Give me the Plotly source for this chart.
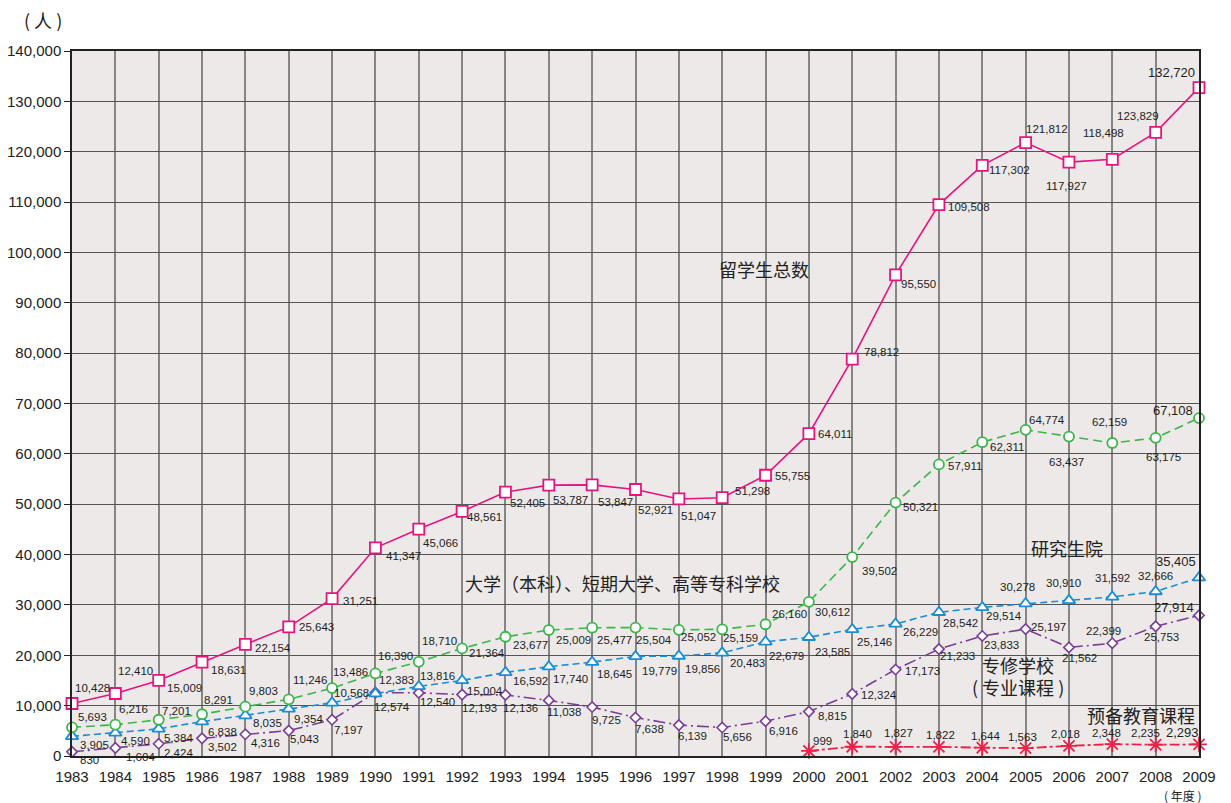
import plotly.graph_objects as go

years = list(range(1983, 2010))
total = [10428, 12410, 15009, 18631, 22154, 25643, 31251, 41347, 45066, 48561, 52405, 53787, 53847,
         52921, 51047, 51298, 55755, 64011, 78812, 95550, 109508, 117302, 121812, 117927, 118498,
         123829, 132720]
univ = [5693, 6216, 7201, 8291, 9803, 11246, 13486, 16390, 18710, 21364, 23677, 25009, 25477, 25504,
        25052, 25159, 26160, 30612, 39502, 50321, 57911, 62311, 64774, 63437, 62159, 63175, 67108]
grad = [3905, 4590, 5384, 6838, 8035, 9354, 10568, 12383, 13816, 15004, 16592, 17740, 18645, 19779,
        19856, 20483, 22679, 23585, 25146, 26229, 28542, 29514, 30278, 30910, 31592, 32666, 35405]
senshu = [830, 1604, 2424, 3502, 4316, 5043, 7197, 12574, 12540, 12193, 12136, 11038, 9725, 7638,
          6139, 5656, 6916, 8815, 12324, 17173, 21233, 23833, 25197, 21562, 22399, 25753, 27914]
prep_years = list(range(2000, 2010))
prep = [999, 1840, 1827, 1822, 1644, 1563, 2018, 2348, 2235, 2293]

# label offsets in pixels (dx right, dy down) – styling only
off_total = [(20, -15), (20, -23), (26, 8), (26, 8), (28, 4), (28, 0), (28, 2), (28, 8), (22, 14), (22, 6),
             (22, 11), (22, 15), (23, 17), (20, 20), (20, 17), (30, -7), (27, 1), (26, 0), (29, -7), (23, 9),
             (30, 2), (27, 5), (21, -14), (-2, 24), (-9, -26), (-18, -16), (-28, -15)]
off_univ = [(20, -10), (18, -16), (18, -9), (16, -14), (18, -16), (21, -19), (18, -16), (20, -17), (21, -21),
            (25, 5), (25, 8), (25, 10), (22, 12), (18, 12), (20, 7), (18, 9), (24, -10), (24, 10), (27, 14),
            (25, 4), (26, 2), (25, 5), (21, -10), (-2, 25), (-3, -21), (8, 19), (-26, -8)]
off_grad = [(22, 9), (20, 8), (20, 9), (20, 10), (22, 7), (20, 10), (19, -10), (21, -14), (19, -10), (23, 11),
            (25, 9), (22, 12), (22, 12), (24, 15), (24, 13), (25, 10), (21, 14), (24, 15), (22, 13), (25, 8),
            (22, 11), (22, 9), (-8, -17), (-5, -17), (0, -19), (0, -16), (-23, -16)]
off_senshu = [(17, 8), (25, 9), (20, 9), (20, 9), (20, 9), (16, 8), (16, 10), (17, 14), (19, 9), (17, 13),
              (15, 13), (15, 12), (14, 13), (14, 11), (14, 11), (15, 9), (18, 10), (24, 4), (27, 1), (27, 1),
              (19, 7), (19, 9), (23, -2), (11, 11), (-9, -12), (6, 11), (-25, -8)]
off_prep = [(14, -10), (5, -13), (3, -14), (2, -12), (3, -12), (-3, -11), (-3, -12), (-6, -11), (-10, -12),
            (-17, -12)]

PINK = "#E6147F"
GREEN = "#3DB54A"
BLUE = "#1B8DD4"
PURPLE = "#7A3E96"
RED = "#E8234A"
SANS = "Liberation Sans, Arial, sans-serif"
CJK = "Noto Sans CJK SC"

fig = go.Figure()

def add_series(x, y, color, dash, symbol, size, lw=1.6, mlw=1.8, fill="white"):
    fig.add_trace(go.Scatter(
        x=x, y=y, mode="lines+markers",
        line=dict(color=color, width=lw, dash=dash),
        marker=dict(symbol=symbol, size=size, color=fill, line=dict(color=color, width=mlw)),
        cliponaxis=False, showlegend=False, hoverinfo="x+y"))

add_series(prep_years, prep, RED, "10px,3px,3px,3px", "asterisk-open", 13, lw=1.8, mlw=1.8, fill=RED)
add_series(years, senshu, PURPLE, "12px,4px,2px,4px", "diamond", 8, mlw=1.6)
add_series(years, grad, BLUE, "7px,4px", "triangle-up", 11)
add_series(years, univ, GREEN, "9px,5px", "circle", 10)
add_series(years, total, PINK, "solid", "square", 11)

annotations = []

def add_labels(x, y, offs):
    n = len(x)
    for i, (xx, yy, (dx, dy)) in enumerate(zip(x, y, offs)):
        last = i == n - 1
        annotations.append(dict(
            x=xx, y=yy, xref="x", yref="y", text=f"{yy:,}", showarrow=False,
            xshift=dx, yshift=-dy,
            font=dict(family=SANS, size=13 if last else 11.5, color="#1e1e1e")))

add_labels(years, total, off_total)
add_labels(years, univ, off_univ)
add_labels(years, grad, off_grad)
add_labels(years, senshu, off_senshu)
add_labels(prep_years, prep, off_prep)

# plot area in page pixels
L, R, T, B = 72, 1199, 51, 756

def plot_text(text, px, py, size=18):
    annotations.append(dict(
        x=(px - L) / (R - L), y=(B - py) / (B - T), xref="paper", yref="paper", text=text,
        showarrow=False, xanchor="center", yanchor="middle",
        font=dict(family=CJK, size=size, color="#222")))

plot_text("留学生总数", 764, 269)
plot_text("大学（本科）、短期大学、高等专科学校", 622, 583)
plot_text("研究生院", 1067, 548)
plot_text("专修学校", 1018, 665)
plot_text("( 专业课程 )", 1018, 687)
plot_text("预备教育课程", 1141, 715)
plot_text("( 人 )", 43, 20, size=18)
plot_text("( 年度 )", 1183, 795, size=12)

fig.update_layout(
    width=1231, height=803,
    margin=dict(l=L, r=1231 - R, t=T, b=803 - B),
    paper_bgcolor="white", plot_bgcolor="#ECE9E8",
    annotations=annotations,
    font=dict(family=SANS, color="#222"),
)
fig.update_xaxes(
    range=[1983, 2009], tickmode="array", tickvals=years, ticktext=[str(y) for y in years],
    showgrid=True, gridcolor="#858585", gridwidth=1.8, zeroline=False,
    showline=True, linecolor="#222", linewidth=1.5, mirror=True, automargin=False,
    ticks="", tickfont=dict(size=15, family=SANS, color="#222"),
    ticklabelstandoff=6,
)
fig.update_yaxes(
    range=[0, 140000], dtick=10000, tickformat=",", showgrid=True, gridcolor="#555555", gridwidth=1.4,
    zeroline=False, showline=True, linecolor="#222", linewidth=1.5, mirror=True, automargin=False,
    ticks="outside", ticklen=6, tickcolor="#222", tickwidth=1.2,
    tickfont=dict(size=15, family=SANS, color="#222"),
)

fig.write_html("out.html", config={"displayModeBar": False},
               post_script="document.body.style.margin='0';document.body.style.overflow='hidden';")
